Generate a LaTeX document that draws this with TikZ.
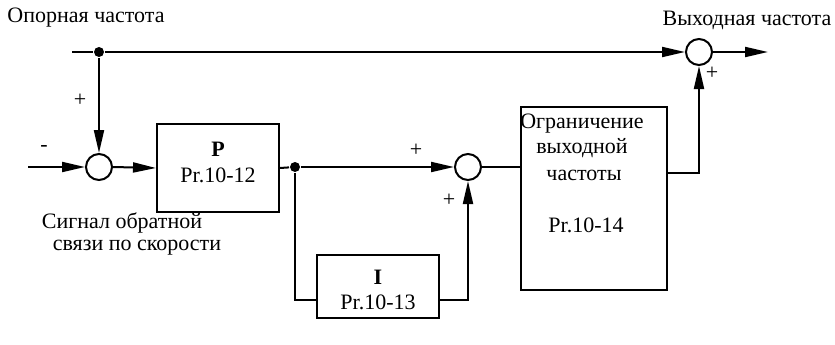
\documentclass[tikz,border=0pt]{standalone}
\usepackage{fontspec}
\setmainfont{Liberation Serif}
\usetikzlibrary{arrows.meta}
\begin{document}
\begin{tikzpicture}[x=1pt,y=-1pt,
  line width=2pt,
  txt/.style={inner sep=0pt,font=\fontsize{22}{26}\selectfont},
  sgn/.style={inner sep=0pt,font=\fontsize{22}{26}\selectfont},
  blk/.style={draw,line width=2pt,inner sep=0pt},
  sum/.style={draw,circle,line width=2pt,minimum size=26pt,inner sep=0pt},
  dotn/.style={fill,circle,minimum size=10pt,inner sep=0pt},
  arr/.style={-{Triangle[length=23pt,width=10pt]}}]
\useasboundingbox (0,0) rectangle (835,345);
% labels
\node[txt] (ref) at (86,18) {Опорная частота};
\node[txt] (outl) at (747,20) {Выходная частота};
\node[txt] (fb1) at (122,223) {Сигнал обратной};
\node[txt] (fb2) at (137,248) {связи по скорости};
% summing junctions
\node[sum] (s1) at (99,167) {};
\node[sum] (s2) at (468,167) {};
\node[sum] (s3) at (699,52) {};
% blocks
\node[blk,minimum width=122pt,minimum height=88pt] (P) at (218,168) {};
\node[txt,font=\fontsize{22}{26}\selectfont\bfseries] (Pt) at (218,149) {P};
\node[txt] (Pp) at (218,175) {Pr.10-12};
\node[blk,minimum width=122pt,minimum height=63pt] (I) at (378,286.5) {};
\node[txt,font=\fontsize{22}{26}\selectfont\bfseries] (It) at (378,277) {I};
\node[txt] (Ip) at (378,302) {Pr.10-13};
\node[blk,minimum width=146pt,minimum height=183pt] (L) at (594,198.5) {};
\node[txt] (L1) at (582,124) {Ограничение};
\node[txt] (L2) at (582,148) {выходной};
\node[txt] (L3) at (584,175) {частоты};
\node[txt] (L4) at (586,225) {Pr.10-14};
% dots
\node[dotn] (d1) at (99,52) {};
\node[dotn] (d2) at (295,167) {};
% coordinates
\coordinate (start) at (72,52);
\coordinate (inp) at (28,167);
\coordinate (out) at (768,52);
\coordinate (iin) at (317,300);
\coordinate (iout) at (439,300);
\coordinate (lout) at (667,173);
% connectors
\draw (start) -- (d1);
\draw[arr] (d1) -- (s3.west);
\draw[arr] (d1) -- (s1.north);
\draw[arr] (inp) -- (s1.west);
\draw[arr] (s1.east) -- (P.west);
\draw (P.east) -- (d2);
\draw[arr] (d2) -- (s2.west);
\draw (d2) |- (iin);
\draw[arr] (iout) -| (s2.south);
\draw (s2.east) -- (L.west |- s2.east);
\draw[arr] (lout) -| (s3.south);
\draw[arr] (s3.east) -- (out);
% signs
\node[sgn] (p1) at (80,100) {+};
\node[sgn] (m1) at (44,148) {-};
\node[sgn] (p2) at (416,150) {+};
\node[sgn] (p3) at (449,200) {+};
\node[sgn] (p4) at (712,73) {+};
\end{tikzpicture}
\end{document}
